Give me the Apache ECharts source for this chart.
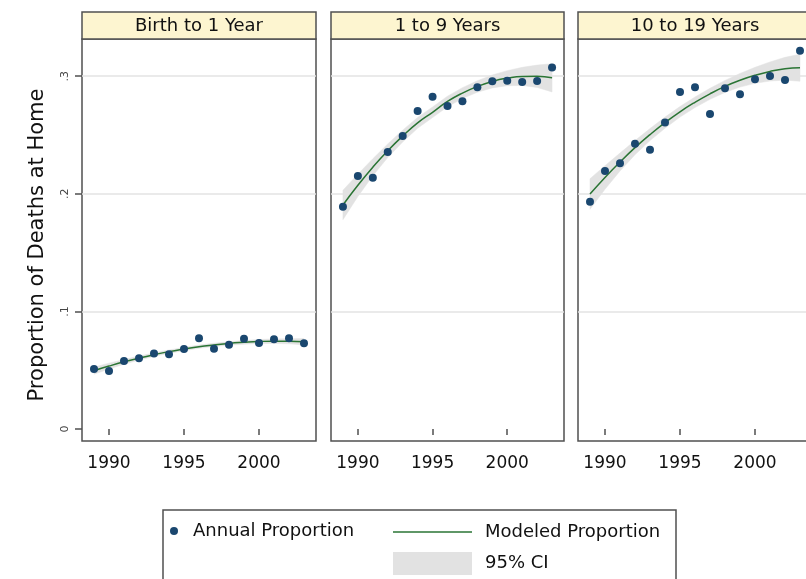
<!DOCTYPE html>
<html>
<head>
<meta charset="utf-8">
<script src="https://cdn.jsdelivr.net/npm/echarts@6/dist/echarts.min.js"></script>
<style>
  html, body { margin: 0; padding: 0; background: #ffffff; }
  #chart { width: 806px; height: 579px; }
</style>
</head>
<body>
<div id="chart"></div>
<script>
// Proportion of child deaths occurring at home, by age group, 1989-2003
const years = [1989, 1990, 1991, 1992, 1993, 1994, 1995, 1996, 1997, 1998, 1999, 2000, 2001, 2002, 2003];

const panelTitles = ['Birth to 1 Year', '1 to 9 Years', '10 to 19 Years'];

// Birth to 1 year
const annualInfant = [0.0510, 0.0493, 0.0578, 0.0601, 0.0641, 0.0635, 0.0680, 0.0771, 0.0683, 0.0717, 0.0768, 0.0731, 0.0763, 0.0771, 0.0729];
const modelInfant  = [0.0496, 0.0535, 0.0571, 0.0603, 0.0632, 0.0658, 0.0680, 0.0700, 0.0715, 0.0728, 0.0737, 0.0744, 0.0747, 0.0746, 0.0742];
const lowInfant    = [0.0466, 0.0510, 0.0551, 0.0586, 0.0617, 0.0644, 0.0666, 0.0686, 0.0701, 0.0713, 0.0721, 0.0727, 0.0728, 0.0724, 0.0715];
const highInfant   = [0.0526, 0.0560, 0.0591, 0.0620, 0.0647, 0.0672, 0.0694, 0.0714, 0.0729, 0.0743, 0.0753, 0.0761, 0.0766, 0.0768, 0.0769];

// 1 to 9 years
const annualChild = [0.1890, 0.2151, 0.2137, 0.2355, 0.2491, 0.2704, 0.2826, 0.2747, 0.2786, 0.2905, 0.2956, 0.2962, 0.2951, 0.2959, 0.3073];
const modelChild  = [0.1905, 0.2072, 0.2226, 0.2366, 0.2491, 0.2603, 0.2693, 0.2785, 0.2856, 0.2912, 0.2955, 0.2983, 0.2998, 0.2999, 0.2986];
const lowChild    = [0.1780, 0.1977, 0.2154, 0.2308, 0.2441, 0.2557, 0.2648, 0.2740, 0.2810, 0.2863, 0.2900, 0.2919, 0.2921, 0.2904, 0.2866];
const highChild   = [0.2030, 0.2167, 0.2298, 0.2424, 0.2541, 0.2649, 0.2738, 0.2830, 0.2902, 0.2961, 0.3010, 0.3047, 0.3075, 0.3094, 0.3106];

// 10 to 19 years
const annualTeen = [0.1933, 0.2194, 0.2259, 0.2426, 0.2375, 0.2605, 0.2866, 0.2905, 0.2679, 0.2897, 0.2846, 0.2973, 0.3002, 0.2968, 0.3217];
const modelTeen  = [0.1998, 0.2139, 0.2270, 0.2392, 0.2503, 0.2605, 0.2697, 0.2778, 0.2850, 0.2913, 0.2965, 0.3007, 0.3040, 0.3063, 0.3072];
const lowTeen    = [0.1868, 0.2039, 0.2194, 0.2332, 0.2452, 0.2558, 0.2652, 0.2733, 0.2803, 0.2862, 0.2907, 0.2939, 0.2959, 0.2966, 0.2957];
const highTeen   = [0.2128, 0.2239, 0.2346, 0.2452, 0.2554, 0.2652, 0.2742, 0.2823, 0.2897, 0.2964, 0.3023, 0.3075, 0.3121, 0.3160, 0.3187];

const xTicks = [1990, 1995, 2000];
const yTicks = [0, 0.1, 0.2, 0.3];
const yTickLabels = ['0', '.1', '.2', '.3'];
const yGridValues = [0.1, 0.2, 0.3];

const panels = [
  { annual: annualInfant, model: modelInfant, low: lowInfant, high: highInfant },
  { annual: annualChild,  model: modelChild,  low: lowChild,  high: highChild },
  { annual: annualTeen,   model: modelTeen,   low: lowTeen,   high: highTeen }
];

// panel geometry (pixels); the last panel runs past the right edge of the canvas
const gridBoxes = [
  { left: 82,  width: 234 },
  { left: 331, width: 233 },
  { left: 578, width: 234 }
];
const plotTop = 39, plotHeight = 402, headerTop = 12, headerHeight = 27;

const NAVY = '#1a476f';
const GREEN = '#2a7434';
const BAND = '#e2e2e2';
const FRAME = '#505050';
const GRIDLINE = '#e3e3e3';

const chart = echarts.init(document.getElementById('chart'), null, { renderer: 'canvas' });

const grids = [], xAxes = [], yAxes = [], series = [], graphics = [];

panels.forEach((p, i) => {
  const g = gridBoxes[i];
  grids.push({
    left: g.left, width: g.width, top: plotTop, height: plotHeight,
    outerBoundsMode: 'none',
    show: false, containLabel: false
  });

  // panel frame
  graphics.push({
    type: 'rect', x: g.left, y: plotTop, z: 0, silent: true,
    shape: { x: 0, y: 0, width: g.width, height: plotHeight },
    style: { fill: '#ffffff', stroke: FRAME, lineWidth: 1.5 }
  });

  xAxes.push({
    type: 'value', gridIndex: i, min: 1988.2, max: 2003.8,
    axisLine: { show: false },
    axisTick: { show: true, customValues: xTicks, length: 6, lineStyle: { color: FRAME, width: 1.5 } },
    axisLabel: { show: true, customValues: xTicks, fontSize: 17, color: '#111', margin: 14,
                 formatter: v => String(v) },
    splitLine: { show: false }
  });

  const first = i === 0;
  yAxes.push({
    type: 'value', gridIndex: i, min: -0.0102, max: 0.3316,
    axisLine: { show: false },
    axisTick: { show: first, customValues: yTicks, length: 7, lineStyle: { color: FRAME, width: 1.5 } },
    axisLabel: {
      show: first, customValues: yTicks, rotate: 90, fontSize: 11, color: '#444', margin: 11,
      formatter: v => {
        const k = yTicks.findIndex(t => Math.abs(t - v) < 1e-9);
        return k >= 0 ? yTickLabels[k] : '';
      }
    },
    splitLine: { show: false },
    name: first ? 'Proportion of Deaths at Home' : '',
    nameLocation: 'middle', nameGap: 34,
    nameTextStyle: { fontSize: 21, color: '#111', padding: [0, 10, 0, 0] }
  });

  // 95% confidence band, drawn as one filled polygon through the axis scales
  const low = p.low, high = p.high;
  series.push({
    type: 'custom', name: '95% CI', xAxisIndex: i, yAxisIndex: i,
    data: years.map((yr, k) => [yr, low[k], high[k]]),
    encode: { x: 0, y: [1, 2] },
    silent: true, z: 2,
    itemStyle: { color: BAND },
    renderItem: (params, api) => {
      if (params.dataIndex !== 0) return null;
      const upper = years.map((yr, k) => api.coord([yr, high[k]]));
      const lower = years.map((yr, k) => api.coord([yr, low[k]])).reverse();
      return {
        type: 'polygon',
        shape: { points: upper.concat(lower) },
        style: { fill: BAND, stroke: BAND, lineWidth: 0.5 }
      };
    }
  });
  // fitted trend, carrying the horizontal gridlines underneath everything
  series.push({
    type: 'line', name: 'Modeled Proportion', xAxisIndex: i, yAxisIndex: i,
    data: years.map((yr, k) => [yr, p.model[k]]),
    smooth: true, symbol: 'none', silent: true,
    itemStyle: { color: GREEN },
    lineStyle: { color: GREEN, width: 1.5 }, z: 3,
    markLine: {
      silent: true, symbol: 'none', z: 1, animation: false,
      label: { show: false },
      lineStyle: { color: GRIDLINE, width: 1.5, type: 'solid' },
      data: yGridValues.map(v => ({ yAxis: v }))
    }
  });
  // yearly observations
  series.push({
    type: 'scatter', name: 'Annual Proportion', xAxisIndex: i, yAxisIndex: i,
    data: years.map((yr, k) => [yr, p.annual[k]]),
    symbol: 'circle', symbolSize: 8, silent: true,
    itemStyle: { color: NAVY, opacity: 1 }, z: 4
  });

  // panel strip header
  graphics.push({
    type: 'group', x: g.left, y: headerTop, z: 5,
    children: [
      { type: 'rect', shape: { x: 0, y: 0, width: g.width, height: headerHeight },
        style: { fill: '#fdf5d0', stroke: FRAME, lineWidth: 1.5 } },
      { type: 'text', x: g.width / 2, y: headerHeight / 2 + 0.5,
        style: { text: panelTitles[i], fill: '#111', font: '18px "DejaVu Sans"',
                 align: 'center', verticalAlign: 'middle' } }
    ]
  });
});

// legend frame
graphics.push({
  type: 'rect', x: 163, y: 510, z: 0, silent: true,
  shape: { x: 0, y: 0, width: 513, height: 100 },
  style: { fill: 'none', stroke: FRAME, lineWidth: 1.5 }
});

chart.setOption({
  animation: false,
  backgroundColor: '#ffffff',
  textStyle: { fontFamily: '"DejaVu Sans", sans-serif' },
  grid: grids,
  xAxis: xAxes,
  yAxis: yAxes,
  series: series,
  graphic: graphics,
  legend: [
    {
      data: ['Annual Proportion'], left: 170, top: 522, padding: 0,
      icon: 'circle', itemWidth: 8, itemHeight: 8, selectedMode: false,
      textStyle: { fontSize: 18, color: '#111', padding: [0, 0, 0, 10] }
    },
    {
      data: [
        { name: 'Modeled Proportion', icon: 'path://M0 0H158V3H0Z', itemStyle: { color: GREEN } },
        { name: '95% CI', icon: 'rect', itemStyle: { color: BAND } }
      ],
      orient: 'vertical', left: 393, top: 523, padding: 0,
      itemWidth: 79, itemHeight: 23, itemGap: 11, selectedMode: false,
      textStyle: { fontSize: 18, color: '#111', padding: [0, 0, 0, 8] }
    }
  ]
});
</script>
</body>
</html>
